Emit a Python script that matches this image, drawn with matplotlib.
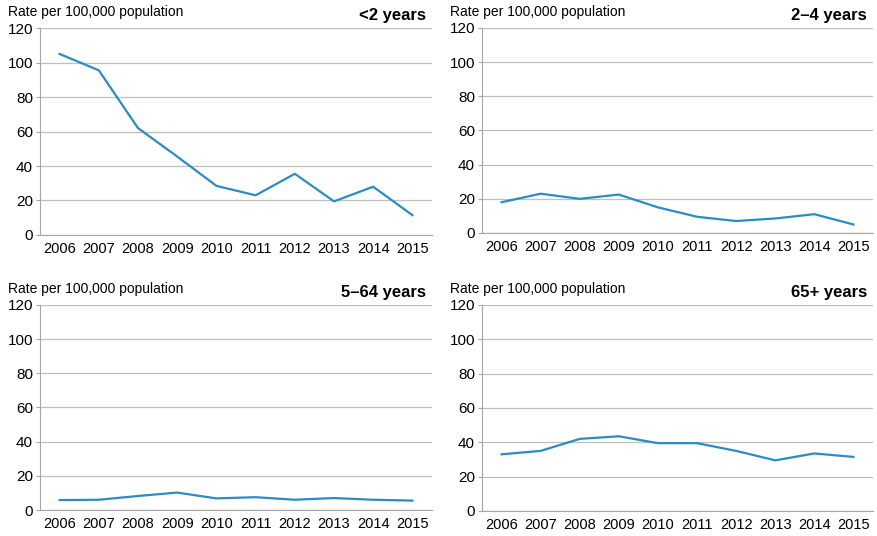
import matplotlib
matplotlib.use("Agg")
import matplotlib.pyplot as plt
import numpy as np

plt.rcParams['font.family'] = ['Liberation Sans', 'DejaVu Sans']

years = ['2006', '2007', '2008', '2009', '2010', '2011', '2012', '2013', '2014', '2015']
under2 = [105, 95.5, 62, 45.5, 28.5, 23, 35.5, 19.5, 28, 11.5]
age2_4 = [18, 23, 20, 22.5, 15, 9.5, 7, 8.5, 11, 5]
age5_64 = [5.8, 6, 8.2, 10.2, 6.8, 7.5, 6, 7, 6, 5.5]
age65 = [33, 35, 42, 43.5, 39.5, 39.5, 35, 29.5, 33.5, 31.5]

panels = [('<2 years', under2), ('2\u20134 years', age2_4),
          ('5\u201364 years', age5_64), ('65+ years', age65)]

# axes boxes in figure fractions
boxes = [(0.0456, 0.5616, 0.447, 0.386),
         (0.5496, 0.5653, 0.4458, 0.3825),
         (0.0456, 0.0485, 0.447, 0.3825),
         (0.5496, 0.0467, 0.4458, 0.3843)]

line_col = '#2b8cc4'
grid_col = '#bfbfbf'

fig = plt.figure(figsize=(8.77, 5.36), dpi=100)
x = np.arange(len(years))

for (label, vals), box in zip(panels, boxes):
    ax = fig.add_axes(box)
    ax.plot(x, vals, color=line_col, lw=1.6)
    ax.set_xlim(-0.5, 9.5)
    ax.set_ylim(0, 120)
    ax.set_yticks(range(0, 121, 20))
    ax.set_xticks(x)
    ax.set_xticklabels(years)
    ax.yaxis.grid(True, color=grid_col, lw=0.9)
    ax.set_axisbelow(True)
    for s in ['top', 'right']:
        ax.spines[s].set_visible(False)
    ax.spines['left'].set_color('#a6a6a6')
    ax.spines['bottom'].set_color('#a6a6a6')
    ax.tick_params(axis='y', length=3, color='#a6a6a6', labelsize=11, pad=2)
    ax.tick_params(axis='x', length=0, labelsize=10.5, pad=5)
    ax.text(-0.082, 1.06, 'Rate per 100,000 population', transform=ax.transAxes,
            fontsize=10, ha='left', va='baseline')
    ax.text(0.985, 1.04, label, transform=ax.transAxes, fontsize=12,
            fontweight='bold', ha='right', va='baseline')

fig.savefig('out.png', dpi=100)
